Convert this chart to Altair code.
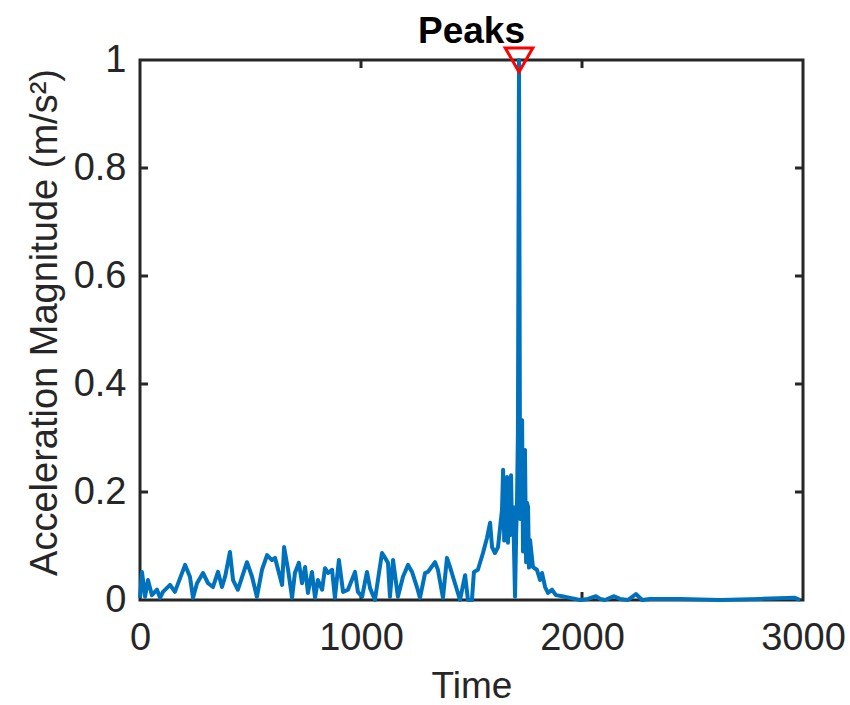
import altair as alt
import pandas as pd

# ---- data ----
time = [0, 9, 23, 36, 54, 77, 91, 104, 136, 158, 204, 226, 240, 258, 285, 308, 330, 353,
        371, 385, 407, 421, 443, 484, 507, 529, 552, 575, 597, 611, 643, 652, 670, 688,
        701, 719, 733, 747, 760, 778, 792, 805, 824, 837, 851, 869, 882, 900, 919, 941,
        973, 986, 1005, 1027, 1041, 1063, 1095, 1109, 1122, 1131, 1145, 1167, 1190, 1213,
        1231, 1253, 1267, 1290, 1303, 1335, 1348, 1371, 1389, 1403, 1425, 1448, 1471, 1484,
        1502, 1511, 1529, 1552, 1570, 1584, 1593, 1606, 1620, 1638,
        1643, 1648, 1652, 1656, 1661, 1665, 1670, 1674, 1679, 1683, 1688, 1692, 1697, 1702,
        1706, 1710, 1715, 1720, 1724, 1729, 1733, 1738, 1742, 1747, 1751, 1756, 1760, 1765,
        1778, 1796, 1810, 1819, 1833,
        1846, 1864, 1882, 1910, 1946, 1991, 2027, 2063, 2082, 2104, 2145, 2172, 2208, 2244,
        2272, 2308, 2444, 2625, 2806, 2964, 2987]
accel = [0.004, 0.052, 0.006, 0.037, 0.009, 0.019, 0.004, 0.015, 0.028, 0.015, 0.065, 0.043,
         0.004, 0.031, 0.050, 0.031, 0.024, 0.052, 0.024, 0.043, 0.089, 0.037, 0.019, 0.070,
         0.043, 0.006, 0.056, 0.083, 0.074, 0.078, 0.028, 0.098, 0.056, 0.004, 0.050, 0.069,
         0.031, 0.061, 0.013, 0.052, 0.004, 0.037, 0.019, 0.059, 0.050, 0.056, 0.004, 0.074,
         0.015, 0.019, 0.052, 0.015, 0.006, 0.052, 0.022, 0.000, 0.087, 0.078, 0.069, 0.006,
         0.074, 0.006, 0.043, 0.065, 0.052, 0.024, 0.004, 0.050, 0.052, 0.070, 0.056, 0.004,
         0.078, 0.061, 0.031, 0.000, 0.046, 0.000, 0.000, 0.052, 0.056, 0.087, 0.115, 0.143,
         0.098, 0.087, 0.098, 0.167,
         0.241, 0.110, 0.220, 0.120, 0.228, 0.106, 0.200, 0.120, 0.231, 0.130, 0.172, 0.100,
         0.006, 0.120, 0.185, 0.309, 1.000, 0.150, 0.300, 0.333, 0.090, 0.250, 0.278, 0.070,
         0.180, 0.172, 0.060, 0.111,
         0.061, 0.056, 0.037, 0.050, 0.024,
         0.013, 0.019, 0.009, 0.007, 0.004, 0.000, 0.002, 0.007, 0.002, 0.000, 0.007, 0.002,
         0.000, 0.011, 0.000, 0.002, 0.002, 0.000, 0.002, 0.004, 0.000]
peak_time = [1715]
peak_value = [1.0]
x_ticks = [0, 1000, 2000, 3000]
y_ticks = [0, 0.2, 0.4, 0.6, 0.8, 1]
inner_x_ticks = [1000, 2000]
inner_y_ticks = [0.2, 0.4, 0.6, 0.8]
title_text = ["Peaks"]

# ---- layout ----
W, H = 663, 540
TICK = 8
AX = "#262626"
FONT = "Liberation Sans"

df = pd.DataFrame({"Time": time, "Accel": accel})
peaks = pd.DataFrame({"Time": peak_time, "Accel": peak_value})
xt = pd.DataFrame({"Time": inner_x_ticks})
yt = pd.DataFrame({"Accel": inner_y_ticks})
box_df = pd.DataFrame({"k": [0]})
title_df = pd.DataFrame({"label": title_text})

xscale = alt.Scale(domain=[0, 3000], nice=False, zero=False)
yscale = alt.Scale(domain=[0, 1], nice=False, zero=False)

xaxis = alt.Axis(values=x_ticks, format="d", title="Time", domain=False, ticks=False,
                 tickSize=0, grid=False, labelFontSize=38, labelFont=FONT, labelColor=AX,
                 labelPadding=49, labelBaseline="alphabetic", labelFlush=False,
                 labelOverlap=False, titleFont=FONT, titleFontSize=37,
                 titleFontWeight="normal", titleColor=AX, titleY=97,
                 titleBaseline="alphabetic")
yaxis = alt.Axis(values=y_ticks, format="~g", title="Acceleration Magnitude (m/s²)",
                 domain=False, ticks=False, tickSize=0, grid=False, labelFontSize=38,
                 labelFont=FONT, labelColor=AX, labelPadding=14, labelFlush=False,
                 labelOverlap=False, titleFont=FONT, titleFontSize=38,
                 titleFontWeight="normal", titleColor=AX, titleX=-95, titleY=262,
                 titleAngle=-90, titleBaseline="middle", titleAlign="center")

X = alt.X("Time:Q", scale=xscale, axis=xaxis)
Y = alt.Y("Accel:Q", scale=yscale, axis=yaxis)

box = alt.Chart(box_df).mark_rect(fill=None, stroke=AX, strokeWidth=3).encode(
    x=alt.value(0), x2=alt.value(W), y=alt.value(0), y2=alt.value(H))

bottom_ticks = alt.Chart(xt).mark_rule(color=AX, strokeWidth=3).encode(
    x=X, y=alt.value(H), y2=alt.value(H - TICK))
top_ticks = alt.Chart(xt).mark_rule(color=AX, strokeWidth=3).encode(
    x=X, y=alt.value(0), y2=alt.value(TICK))
left_ticks = alt.Chart(yt).mark_rule(color=AX, strokeWidth=3).encode(
    y=Y, x=alt.value(0), x2=alt.value(TICK))
right_ticks = alt.Chart(yt).mark_rule(color=AX, strokeWidth=3).encode(
    y=Y, x=alt.value(W), x2=alt.value(W - TICK))

line = alt.Chart(df).mark_line(color="#0072BD", strokeWidth=4, strokeJoin="round").encode(
    x=X, y=Y, order="Time:Q")

marker = alt.Chart(peaks).mark_point(shape="triangle-down", size=760, filled=False,
                                     stroke="#FF0000", strokeWidth=3, opacity=1).encode(
    x=X, y=Y)

title = alt.Chart(title_df).mark_text(font=FONT, fontSize=37, fontWeight="bold",
                                      color="#000000", align="center",
                                      baseline="alphabetic").encode(
    text="label:N", x=alt.value(W / 2), y=alt.value(-17))

chart = alt.layer(box, bottom_ticks, top_ticks, left_ticks, right_ticks, line, marker,
                  title).properties(
    width=W, height=H,
    autosize=alt.AutoSizeParams(type="none"),
    padding={"left": 140, "top": 60, "right": 47, "bottom": 105},
    background="white",
).configure_view(stroke=None)

chart.save("out.html", embed_options={"renderer": "svg", "actions": False})
